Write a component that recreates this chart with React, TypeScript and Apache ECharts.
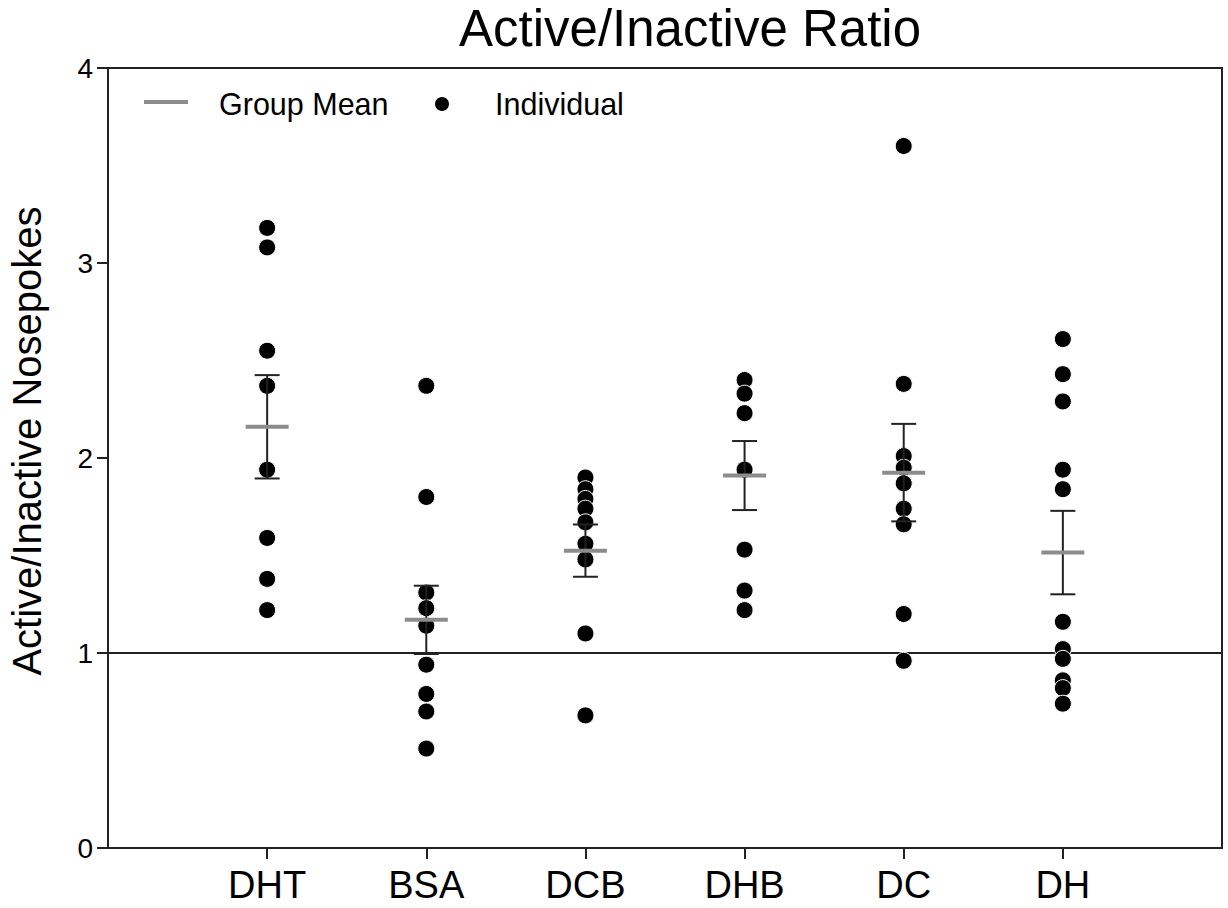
import React, { useEffect, useRef } from "react";
import * as echarts from "echarts";

const categories = ["DHT", "BSA", "DCB", "DHB", "DC", "DH"];
const dht = [3.18, 3.08, 2.55, 2.37, 1.94, 1.59, 1.38, 1.22];
const bsa = [2.37, 1.8, 1.31, 1.23, 1.14, 0.94, 0.79, 0.7, 0.51];
const dcb = [1.9, 1.84, 1.79, 1.74, 1.67, 1.56, 1.48, 1.1, 0.68];
const dhb = [2.4, 2.33, 2.23, 1.94, 1.53, 1.32, 1.22];
const dc = [3.6, 2.38, 2.01, 1.95, 1.87, 1.74, 1.66, 1.2, 0.96];
const dh = [2.61, 2.43, 2.29, 1.94, 1.84, 1.16, 1.02, 0.97, 0.86, 0.82, 0.74];
const groupMeans = [2.16, 1.17, 1.525, 1.91, 1.925, 1.515];
const groupSem = [0.265, 0.175, 0.134, 0.177, 0.25, 0.214];
const yTicks = [0, 1, 2, 3, 4];
const referenceLevel = 1;

const individuals = [dht, bsa, dcb, dhb, dc, dh];
const FONT = "'Liberation Sans', Arial, sans-serif";

export default function App() {
  const ref = useRef<HTMLDivElement>(null);
  useEffect(() => {
    if (!ref.current) return;
    const chart = echarts.init(ref.current, null, { renderer: "svg" });
    const points: number[][] = [];
    individuals.forEach((arr, i) => arr.forEach((v) => points.push([i + 1, v])));
    const catPos = categories.map((_, i) => i + 1);

    chart.setOption({
      animation: false,
      backgroundColor: "#ffffff",
      textStyle: { fontFamily: FONT },
      title: {
        text: "Active/Inactive Ratio",
        left: 459,
        top: 3,
        padding: 0,
        textStyle: { fontFamily: FONT, fontSize: 51, fontWeight: "normal", color: "#000" },
      },
      grid: {
        left: 108,
        right: 6,
        top: 68,
        bottom: 60,
        show: true,
        borderColor: "#222",
        borderWidth: 2,
        backgroundColor: "transparent",
      },
      xAxis: {
        type: "value",
        min: 0,
        max: categories.length + 1,
        interval: 1,
        splitLine: { show: false },
        axisLine: { show: true, lineStyle: { color: "#222", width: 2 } },
        axisTick: {
          show: true,
          length: 11,
          customValues: catPos,
          lineStyle: { color: "#222", width: 2 },
        },
        axisLabel: {
          customValues: catPos,
          fontSize: 38,
          color: "#000",
          fontFamily: FONT,
          margin: 18,
          formatter: (v: number) => categories[Math.round(v) - 1] ?? "",
        },
      },
      yAxis: {
        type: "value",
        min: yTicks[0],
        max: yTicks[yTicks.length - 1],
        interval: 1,
        splitLine: { show: false },
        axisLine: { show: true, lineStyle: { color: "#222", width: 2 } },
        axisTick: { show: true, length: 11, lineStyle: { color: "#222", width: 2 } },
        axisLabel: { fontSize: 28, color: "#000", fontFamily: FONT, margin: 15 },
      },
      graphic: [
        {
          type: "text",
          x: 27,
          y: 441,
          rotation: Math.PI / 2,
          style: {
            text: "Active/Inactive Nosepokes",
            fontSize: 40,
            fontFamily: FONT,
            fill: "#000",
            textAlign: "center",
            textVerticalAlign: "middle",
          },
        },
        { type: "rect", shape: { x: 144, y: 100, width: 44, height: 4 }, style: { fill: "#8c8c8c" } },
        {
          type: "text",
          x: 219,
          y: 104,
          style: { text: "Group Mean", fontSize: 30.5, fontFamily: FONT, fill: "#000", textVerticalAlign: "middle" },
        },
        { type: "circle", shape: { cx: 442, cy: 104, r: 7 }, style: { fill: "#000" } },
        {
          type: "text",
          x: 495,
          y: 104,
          style: { text: "Individual", fontSize: 30.5, fontFamily: FONT, fill: "#000", textVerticalAlign: "middle" },
        },
      ],
      series: [
        {
          type: "line",
          z: 1,
          silent: true,
          symbol: "none",
          data: [
            [0, referenceLevel],
            [categories.length + 1, referenceLevel],
          ],
          lineStyle: { color: "#222", width: 2 },
        },
        {
          type: "scatter",
          name: "Individual",
          z: 2,
          symbol: "circle",
          symbolSize: 17,
          itemStyle: { color: "#000", borderColor: "#fff", borderWidth: 1, opacity: 1 },
          data: points,
        },
        {
          type: "custom",
          name: "SEM",
          z: 3,
          silent: true,
          data: groupMeans.map((m, i) => [i + 1, m, groupSem[i]]),
          renderItem: (params: any, api: any) => {
            const x = api.value(0);
            const m = api.value(1);
            const s = api.value(2);
            const top = api.coord([x, m + s]);
            const bot = api.coord([x, m - s]);
            const hw = 12.5;
            const style = { stroke: "#222", lineWidth: 2 };
            return {
              type: "group",
              children: [
                { type: "line", shape: { x1: top[0], y1: top[1], x2: bot[0], y2: bot[1] }, style },
                { type: "line", shape: { x1: top[0] - hw, y1: top[1], x2: top[0] + hw, y2: top[1] }, style },
                { type: "line", shape: { x1: bot[0] - hw, y1: bot[1], x2: bot[0] + hw, y2: bot[1] }, style },
              ],
            };
          },
        },
        {
          type: "custom",
          name: "Group Mean",
          z: 4,
          silent: true,
          data: groupMeans.map((m, i) => [i + 1, m]),
          renderItem: (params: any, api: any) => {
            const c = api.coord([api.value(0), api.value(1)]);
            return {
              type: "rect",
              shape: { x: c[0] - 21.5, y: c[1] - 2, width: 43, height: 4 },
              style: { fill: "#8c8c8c" },
            };
          },
        },
      ],
    });
    return () => chart.dispose();
  }, []);
  return (
    <div
      ref={ref}
      style={{ position: "fixed", left: 0, top: 0, width: 1228, height: 908, background: "#fff" }}
    />
  );
}
